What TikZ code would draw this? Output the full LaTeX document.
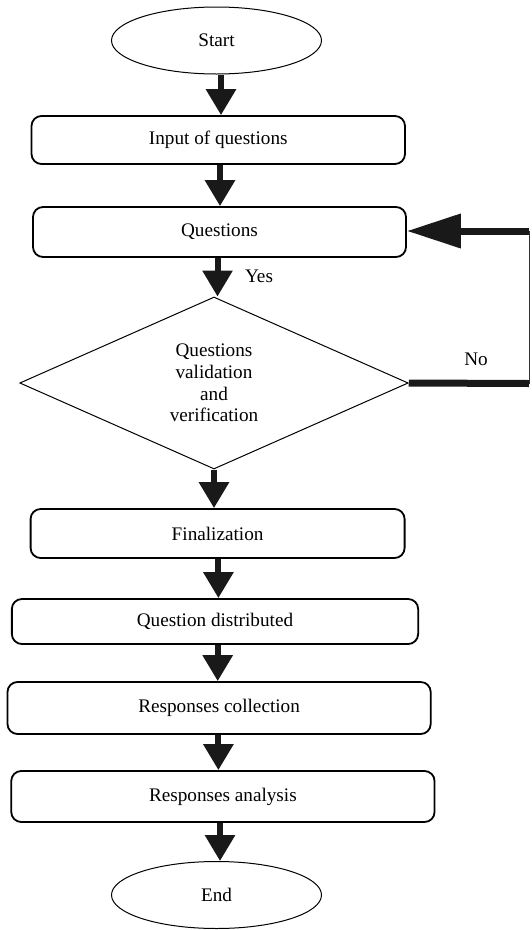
\documentclass[tikz,border=0pt]{standalone}
\usepackage{fontspec}
\setmainfont{Liberation Serif}
\usetikzlibrary{shapes.geometric,arrows.meta}
\begin{document}
\begin{tikzpicture}[x=1pt,y=-1pt,
  every node/.style={font=\fontsize{19.2}{21.7}\selectfont, text=black},
  term/.style={ellipse, draw, line width=1pt, inner sep=0pt},
  procbox/.style={rectangle, rounded corners=10pt, draw, line width=1.8pt, inner sep=0pt},
  decide/.style={diamond, draw, line width=1pt, inner sep=0pt, align=center},
  flowarr/.style={draw=black!90, line width=6pt, -{Triangle[width=29pt,length=26pt]}},
  thickline/.style={draw=black!90, line width=7pt},
  thinline/.style={draw=black!80, line width=1pt},
  lbl/.style={inner sep=0pt}]
\useasboundingbox (0,0) rectangle (531,930);
\node[term, minimum width=210pt, minimum height=67pt] (st) at (216.5,40.5) {Start};
\node[procbox, minimum width=373.5pt, minimum height=48pt] (inp) at (218.25,140) {Input of questions};
\node[procbox, minimum width=373pt, minimum height=50pt] (qs) at (219.5,232) {Questions};
\node[decide, minimum width=388.5pt, minimum height=172pt] (dv) at (214,383) {Questions\\validation\\and\\verification};
\node[procbox, minimum width=374pt, minimum height=49pt] (fin) at (217.6,533.5) {Finalization};
\node[procbox, minimum width=406.3pt, minimum height=45pt] (qd) at (215,621.5) {Question distributed};
\node[procbox, minimum width=423.2pt, minimum height=52pt] (rc) at (219.1,708) {Responses collection};
\node[procbox, minimum width=423.3pt, minimum height=51pt] (ra) at (222.9,796.5) {Responses analysis};
\node[term, minimum width=210pt, minimum height=67pt] (en) at (216.5,895) {End};
\node[lbl] (yes) at (259,276) {Yes};
\node[lbl] (no) at (476,359) {No};
\coordinate (c1) at (529,383.5);
\coordinate (c2) at (529,231);
% main flow
\draw[flowarr] (st.south -| 221,0) -- (inp.north -| 221,0);
\draw[flowarr] (inp.south -| 220,0) -- (qs.north -| 220,0);
\draw[flowarr] (qs.south -| 217.5,0) -- (dv.north -| 217.5,0);
\draw[flowarr] (dv.south) -- (fin.north -| dv.south);
\draw[flowarr] (fin.south -| 218.4,0) -- (qd.north -| 218.4,0);
\draw[flowarr] (qd.south -| 217.7,0) -- (rc.north -| 217.7,0);
\draw[flowarr] (rc.south -| 218.4,0) -- (ra.north -| 218.4,0);
\draw[flowarr] (ra.south -| 220,0) -- (en.north -| 220,0);
% loop back
\draw[thickline] (dv.east) -- (c1);
\draw[thinline] (c1) -- (c2);
\draw[thickline, -{Triangle[width=33pt,length=54pt]}] (c2) -- (qs.east |- c2);
\end{tikzpicture}
\end{document}
